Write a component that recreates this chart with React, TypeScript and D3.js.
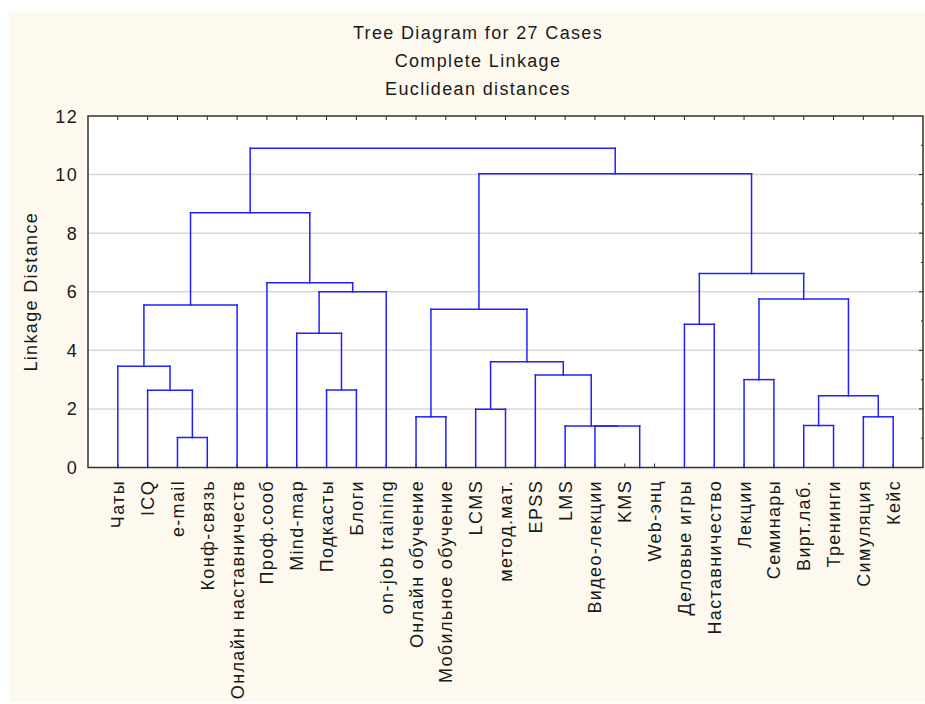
import React from "react";
import * as d3 from "d3";

const titleLines = ["Tree Diagram for 27 Cases", "Complete Linkage", "Euclidean distances"];
const yAxisTitle = "Linkage Distance";
const yTicks = [0, 2, 4, 6, 8, 10, 12];

const leaves = [
  "Чаты", "ICQ", "e-mail", "Конф-связь", "Онлайн наставничеств", "Проф.сооб", "Mind-map",
  "Подкасты", "Блоги", "on-job training", "Онлайн обучение", "Мобильное обучение", "LCMS",
  "метод.мат.", "EPSS", "LMS", "Видео-лекции", "KMS", "Web-энц", "Деловые игры",
  "Наставничество", "Лекции", "Семинары", "Вирт.лаб.", "Тренинги", "Симуляция", "Кейс",
];

// merge nodes: ids 0..26 are leaves, 27+ are merges in order
const mergeLeft = [2, 1, 0, 29, 7, 6, 32, 5, 30, 10, 12, 17, 16, 15, 14, 37, 36, 19, 21, 23, 25, 46, 45, 44, 43, 35];
const mergeRight = [3, 27, 28, 4, 8, 31, 9, 33, 34, 11, 13, 18, 38, 39, 40, 41, 42, 20, 22, 24, 26, 47, 48, 49, 50, 51];
const mergeHeight = [1.02, 2.64, 3.46, 5.55, 2.65, 4.58, 6.0, 6.31, 8.7, 1.73, 1.99, 0, 1.42, 1.42, 3.16, 3.61, 5.4, 4.89, 3.0, 1.43, 1.73, 2.45, 5.75, 6.62, 10.03, 10.9];

const W = 925, H = 704;
const L = 88, R = 923, T = 116, B = 467.5;
const FONT = "'Liberation Sans', Arial, sans-serif";
const LS = 1.35;

export default function App() {
  const x = d3.scalePoint<string>().domain(leaves).range([L, R]).padding(1);
  const xLeaf = (i: number) => x(leaves[i]) as number;
  const y = d3.scaleLinear().domain([0, 12]).range([B, T]);

  const nx: number[] = leaves.map((_, i) => xLeaf(i));
  const nh: number[] = leaves.map(() => 0);
  const segs: [number, number, number, number][] = [];
  mergeLeft.forEach((l, k) => {
    const r = mergeRight[k];
    const h = mergeHeight[k];
    const xl = nx[l], xr = nx[r];
    if (h > 0) {
      if (h > nh[l]) segs.push([xl, y(nh[l]), xl, y(h)]);
      if (h > nh[r]) segs.push([xr, y(nh[r]), xr, y(h)]);
      segs.push([xl, y(h), xr, y(h)]);
    }
    nx.push((xl + xr) / 2);
    nh.push(h);
  });

  const rightTicks = d3.range(1, 12);

  return (
    <svg width={W} height={H} style={{ position: "absolute", left: 0, top: 0 }} fontFamily={FONT}>
      <rect x={0} y={0} width={W} height={H} fill="#ffffff" />
      <rect x={9} y={12} width={W - 9} height={690} fill="#fdf9ef" />
      {titleLines.map((t, i) => (
        <text key={t} x={478} y={39 + i * 28} textAnchor="middle" fontSize={18} letterSpacing={LS} fill="#1a1a1a">
          {t}
        </text>
      ))}
      <rect x={L} y={T} width={R - L} height={B - T} fill="#ffffff" />
      {yTicks.filter((v) => v > 0 && v < 12).map((v) => (
        <line key={"g" + v} x1={L} x2={R} y1={y(v)} y2={y(v)} stroke="#d9d9d9" strokeWidth={1.5} />
      ))}
      {leaves.map((_, i) => (
        <g key={"t" + i}>
          <line x1={xLeaf(i)} x2={xLeaf(i)} y1={T} y2={T + 4} stroke="#222" strokeWidth={1} />
          <line x1={xLeaf(i)} x2={xLeaf(i)} y1={B} y2={B - 4} stroke="#222" strokeWidth={1} />
        </g>
      ))}
      {rightTicks.map((v) => (
        <line key={"r" + v} x1={R} x2={R - (v % 2 === 0 ? 4 : 2)} y1={y(v)} y2={y(v)} stroke="#222" strokeWidth={1} />
      ))}
      {segs.map((s, i) => (
        <line key={"s" + i} x1={s[0]} y1={s[1]} x2={s[2]} y2={s[3]} stroke="#2020ff" strokeWidth={1.5} strokeLinecap="square" />
      ))}
      <rect x={L} y={T} width={R - L} height={B - T} fill="none" stroke="#333" strokeWidth={1.5} />
      {yTicks.map((v) => (
        <text key={"yl" + v} x={78} y={y(v) + 6.5} textAnchor="end" fontSize={18} letterSpacing={LS} fill="#1a1a1a">
          {v}
        </text>
      ))}
      <text
        transform={`translate(37,${(T + B) / 2}) rotate(-90)`}
        textAnchor="middle"
        fontSize={18}
        letterSpacing={LS}
        fill="#1a1a1a"
      >
        {yAxisTitle}
      </text>
      {leaves.map((name, i) => (
        <text
          key={"l" + i}
          transform={`translate(${xLeaf(i) + 6.5},${B + 12.5}) rotate(-90)`}
          textAnchor="end"
          fontSize={18}
          letterSpacing={LS}
          fill="#1a1a1a"
        >
          {name}
        </text>
      ))}
    </svg>
  );
}
